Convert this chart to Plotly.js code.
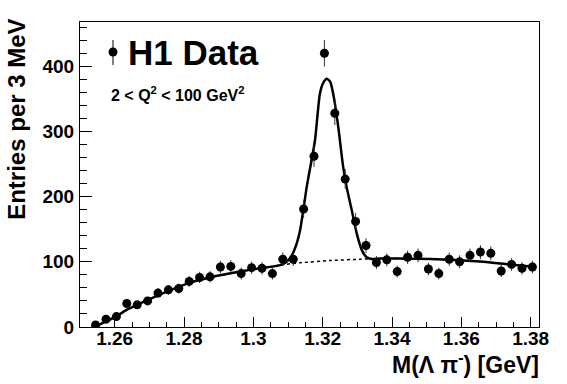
<!DOCTYPE html>
<html>
<head>
<meta charset="utf-8">
<script src="https://cdn.plot.ly/plotly-3.0.1.min.js"></script>
<style>html,body{margin:0;padding:0;background:#fff;}#chart{width:567px;height:384px;}</style>
</head>
<body>
<div id="chart"></div>
<script>
// Bin centres (GeV), 3 MeV bins
const massBins = [1.2545, 1.2575, 1.2605, 1.2635, 1.2665, 1.2695, 1.2725, 1.2755, 1.2785, 1.2815,
  1.2845, 1.2875, 1.2905, 1.2935, 1.2965, 1.2995, 1.3025, 1.3055, 1.3085, 1.3115,
  1.3145, 1.3175, 1.3205, 1.3235, 1.3265, 1.3295, 1.3325, 1.3355, 1.3385, 1.3415,
  1.3445, 1.3475, 1.3505, 1.3535, 1.3565, 1.3595, 1.3625, 1.3655, 1.3685, 1.3715,
  1.3745, 1.3775, 1.3805];
// Entries per bin
const entries = [3, 12, 16, 36, 34, 40, 52, 57, 59, 70,
  76, 77, 92, 93, 82, 91, 90, 82, 104, 104,
  181, 262, 420, 328, 227, 162, 125, 99, 103, 85,
  107, 110, 89, 82, 104, 100, 110, 115, 113, 86,
  96, 90, 92];
// Statistical errors
const entryErrors = [1.7, 3.5, 4.0, 6.0, 5.8, 6.3, 7.2, 7.5, 7.7, 8.4,
  8.7, 8.8, 9.6, 9.6, 9.1, 9.5, 9.5, 9.1, 10.2, 10.2,
  13.5, 16.2, 20.5, 18.1, 15.1, 12.7, 11.2, 9.9, 10.1, 9.2,
  10.3, 10.5, 9.4, 9.1, 10.2, 10.0, 10.5, 10.7, 10.6, 9.3,
  9.8, 9.5, 9.6];
// Fit curve (signal + background)
const fitX = [1.2543, 1.2572, 1.2601, 1.2633, 1.2693, 1.2754, 1.2817, 1.2875, 1.2961, 1.3019,
  1.3077, 1.3096, 1.3111, 1.3125, 1.3135, 1.3144, 1.3154, 1.3168, 1.3178, 1.3192,
  1.3202, 1.3212, 1.3222, 1.3231, 1.3245, 1.3259, 1.3269, 1.3284, 1.3298, 1.3313,
  1.3327, 1.3341, 1.3365, 1.3510, 1.3654, 1.3740, 1.3815];
const fitY = [0, 8, 15, 26, 41, 55, 68, 76, 85, 90,
  95, 100, 110, 128, 149, 179, 215, 256, 287, 358,
  375, 381, 376, 356, 307, 246, 215, 179, 144, 118,
  107, 104.5, 105, 104.5, 100.5, 96, 92];
// Background-only curve
const bkgX = [1.2543, 1.2572, 1.2601, 1.2633, 1.2693, 1.2754, 1.2817, 1.2875, 1.2961, 1.3019,
  1.3077, 1.3134, 1.3221, 1.3308, 1.3365, 1.3510, 1.3654, 1.3740, 1.3815];
const bkgY = [0, 8, 15, 26, 41, 55, 68, 76, 85, 90,
  95, 98.5, 102, 104, 105, 104.5, 100.5, 96, 92];

const FONT = 'Liberation Sans, Arial, Helvetica, sans-serif';

const traces = [
  {x: bkgX, y: bkgY, type: 'scatter', mode: 'lines',
   line: {color: '#000', width: 1.5, dash: '3px,3px', shape: 'spline', smoothing: 0.6},
   hoverinfo: 'skip', showlegend: false},
  {x: fitX, y: fitY, type: 'scatter', mode: 'lines',
   line: {color: '#000', width: 2.5, shape: 'spline', smoothing: 0.6},
   hoverinfo: 'skip', showlegend: false},
  {x: massBins, y: entries, type: 'scatter', mode: 'markers',
   marker: {color: '#000', size: 9},
   error_y: {type: 'data', array: entryErrors, visible: true, color: '#333', thickness: 1, width: 0},
   showlegend: false}
];

const layout = {
  width: 567, height: 384,
  margin: {l: 80, r: 28, t: 22, b: 57},
  paper_bgcolor: '#fff', plot_bgcolor: '#fff',
  font: {family: FONT, color: '#000'},
  xaxis: {
    range: [1.25, 1.3824], showgrid: false, zeroline: false,
    showline: true, linecolor: '#000', linewidth: 1, mirror: true,
    ticks: 'inside', ticklen: 10, tickwidth: 1, tickcolor: '#000',
    tickmode: 'array', tickvals: [1.26, 1.28, 1.3, 1.32, 1.34, 1.36, 1.38],
    ticktext: ['1.26', '1.28', '1.3', '1.32', '1.34', '1.36', '1.38'],
    minor: {dtick: 0.005, tick0: 1.26, ticks: 'inside', ticklen: 5, tickcolor: '#000', showgrid: false},
    tickfont: {family: FONT, size: 19, color: '#000', weight: 'bold'},
    ticklabelstandoff: -6
  },
  yaxis: {
    range: [0, 468], showgrid: false, zeroline: false,
    showline: true, linecolor: '#000', linewidth: 1, mirror: true,
    ticks: 'inside', ticklen: 12, tickwidth: 1, tickcolor: '#000',
    tickvals: [0, 100, 200, 300, 400],
    minor: {dtick: 20, tick0: 0, ticks: 'inside', ticklen: 7, tickcolor: '#000', showgrid: false},
    tickfont: {family: FONT, size: 19, color: '#000', weight: 'bold'},
    ticklabelstandoff: 1
  },
  shapes: [
    {type: 'line', xref: 'paper', yref: 'paper', x0: 0.0719, x1: 0.0719, y0: 0.859, y1: 0.941,
     line: {color: '#000', width: 1}},
    {type: 'circle', xref: 'paper', yref: 'paper', xsizemode: 'pixel', ysizemode: 'pixel',
     xanchor: 0.0719, yanchor: 0.9016, x0: -4.5, x1: 4.5, y0: -4.5, y1: 4.5,
     fillcolor: '#000', line: {color: '#000', width: 0}}
  ],
  annotations: [
    {xref: 'paper', yref: 'paper', x: 0.1, y: 0.9016, xanchor: 'left', yanchor: 'middle',
     text: 'H1 Data', showarrow: false, font: {family: FONT, size: 35, weight: 'bold', color: '#000'}},
    {xref: 'paper', yref: 'paper', x: 0.064, y: 0.764, xanchor: 'left', yanchor: 'middle',
     text: '2 &lt; Q<sup>2</sup> &lt; 100 GeV<sup>2</sup>', showarrow: false,
     font: {family: FONT, size: 16, weight: 'bold', color: '#000'}},
    {xref: 'paper', yref: 'paper', x: 1.004, y: -0.117, xanchor: 'right', yanchor: 'middle',
     text: 'M(Λ π<sup>-</sup>) [GeV]', showarrow: false,
     font: {family: FONT, size: 23, weight: 'bold', color: '#000'}},
    {xref: 'paper', yref: 'paper', x: -0.139, y: 0.68, xanchor: 'center', yanchor: 'middle',
     text: 'Entries per 3 MeV', textangle: -90, showarrow: false,
     font: {family: FONT, size: 24, weight: 'bold', color: '#000'}}
  ]
};

Plotly.newPlot('chart', traces, layout, {staticPlot: true, displayModeBar: false});
</script>
</body>
</html>
